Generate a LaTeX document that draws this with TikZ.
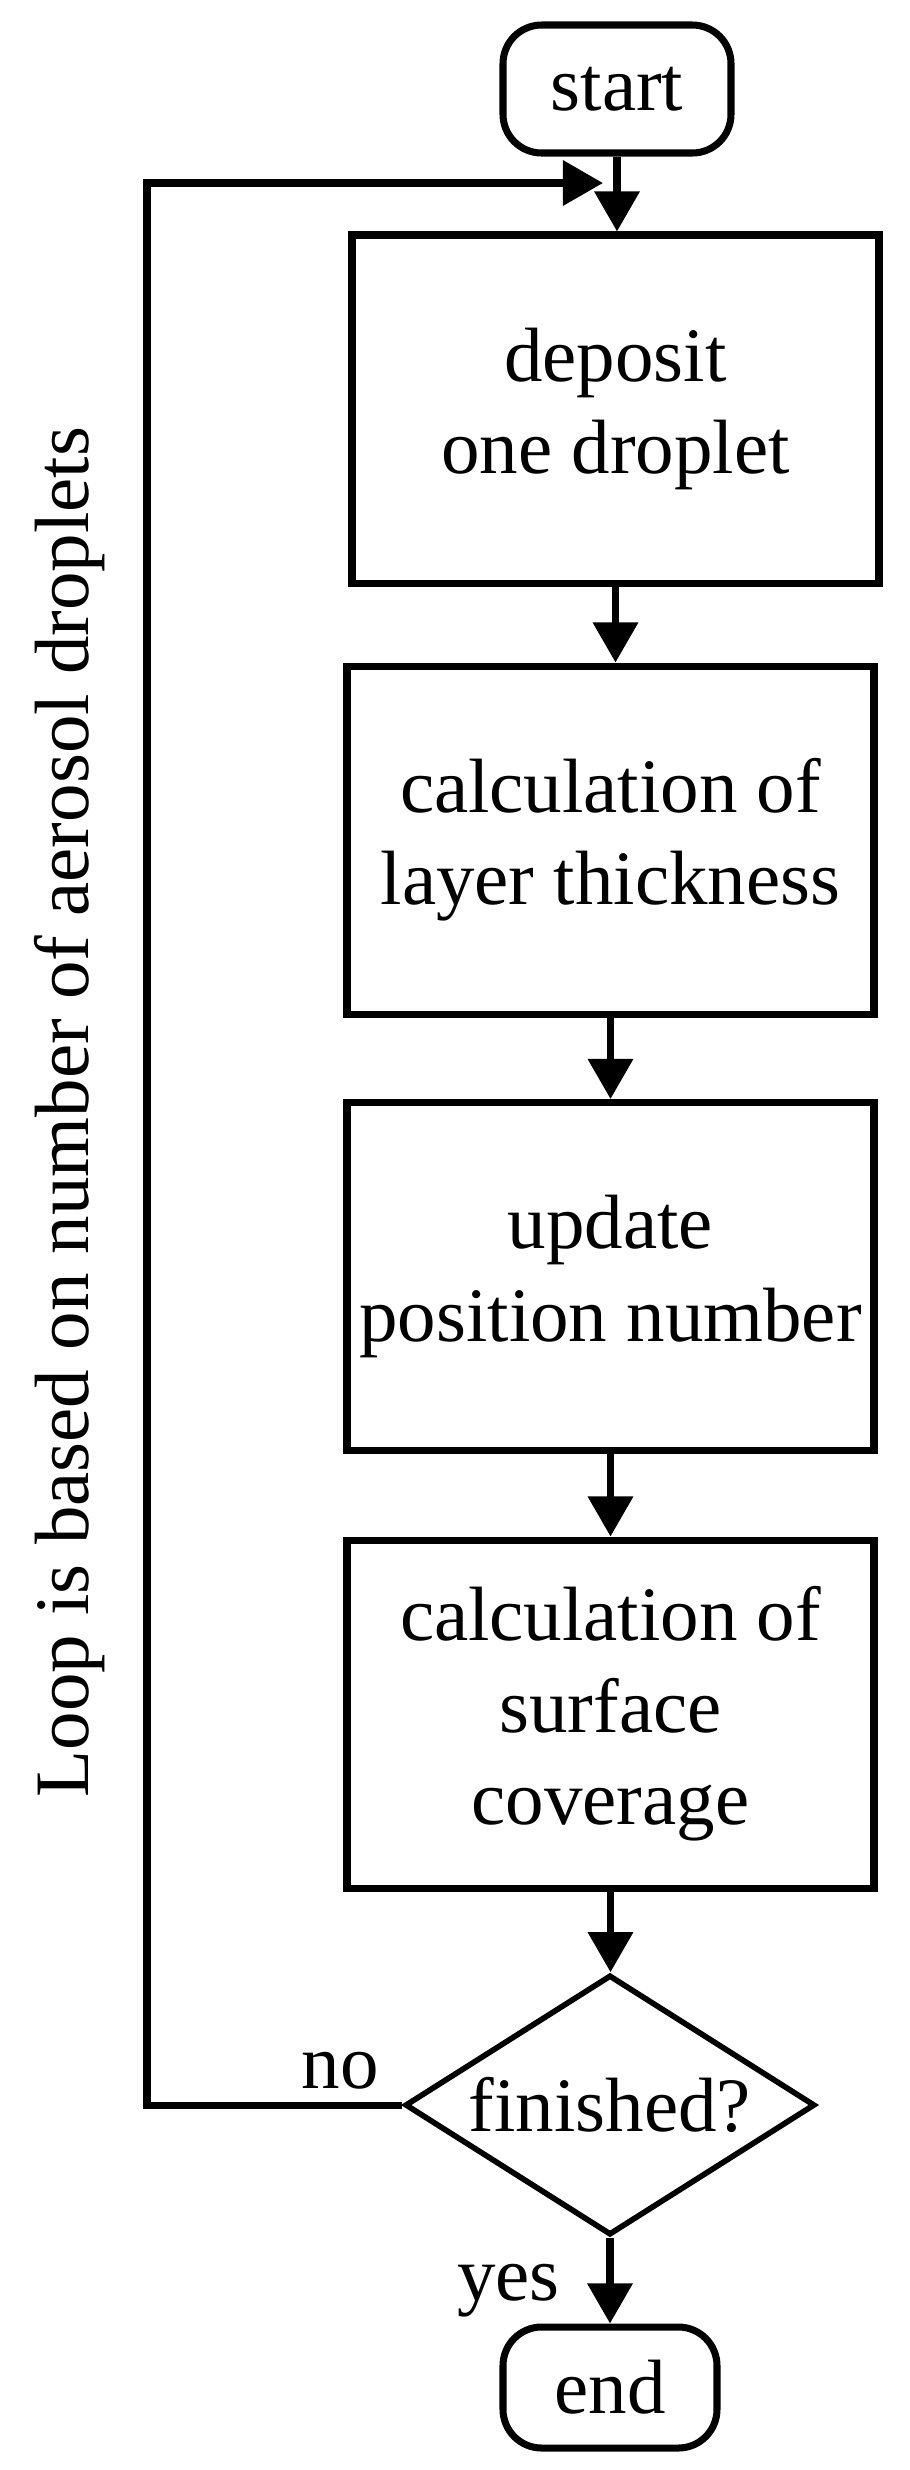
\documentclass[tikz,border=0pt]{standalone}
\usepackage{fontspec}
\setmainfont{Liberation Serif}
\usetikzlibrary{shapes.geometric,arrows.meta}

\begin{document}
\begin{tikzpicture}[
                line width=2pt,
                every node/.style={font=\fontsize{21.9}{26.2}\selectfont},
                terminal/.style={draw,rounded corners=11pt,inner sep=0pt},
                stepbox/.style={draw,align=center,minimum width=5.27cm,minimum height=3.48cm,inner sep=2pt},
                decision/.style={draw,diamond,aspect=1.6,line width=1.6pt,minimum width=4.1cm,minimum height=2.6cm,inner sep=0pt},
                flow/.style={-{Triangle[width=12.5pt,length=11.4pt]}}] %

\useasboundingbox (0,0) rectangle (9.1,-24.7);

                    % start
                    \node[terminal,minimum width=2.28cm,minimum height=1.28cm] (StartNode) at (6.17,-0.89) {start};

                    % steps
                    \node[stepbox] (DepositStep) at (6.155,-4.09) {deposit\\one droplet}; % 1
                    \node[stepbox] (ThicknessStep) at (6.105,-8.40) {calculation of\\layer thickness}; % 2
                    \node[stepbox] (PositionStep) at (6.105,-12.765) {update\\position number}; % 3
                    \node[stepbox] (CoverageStep) at (6.105,-17.14) {calculation of\\surface\\coverage}; % 4

                    % check
                    \node[decision] (FinishedCheck) at (6.10,-21.05) {finished?};

                    % end
                    \node[terminal,minimum width=2.14cm,minimum height=1.21cm] (EndNode) at (6.10,-23.875) {end};


                    \draw[flow] (StartNode.south) -- (StartNode.south |- DepositStep.north);
                    \draw[flow] (DepositStep.south) -- (DepositStep.south |- ThicknessStep.north);
                    \draw[flow] (ThicknessStep.south) -- (ThicknessStep.south |- PositionStep.north);
                    \draw[flow] (PositionStep.south) -- (PositionStep.south |- CoverageStep.north);
                    \draw[flow] (CoverageStep.south) -- (CoverageStep.south |- FinishedCheck.north);
                    \draw[flow] (FinishedCheck.south) -- (FinishedCheck.south |- EndNode.north);


 % loop back
                    \coordinate (LoopCorner) at (1.47,-1.83);
                    \coordinate (LoopEnd) at (6.03,-1.83);
                    \draw[flow] (FinishedCheck.west) -| (LoopCorner) -- (LoopEnd);

                    \node[anchor=base east] (NoLabel) at ([xshift=-0.08cm,yshift=0.17cm]FinishedCheck.west) {no};
                    \node[anchor=base east] (YesLabel) at (5.75,-23.00) {yes};
                    \node[rotate=90,anchor=base] (LoopLabel) at (0.88,-11.12) {Loop is based on number of aerosol droplets};

                    \end{tikzpicture}
\end{document}
